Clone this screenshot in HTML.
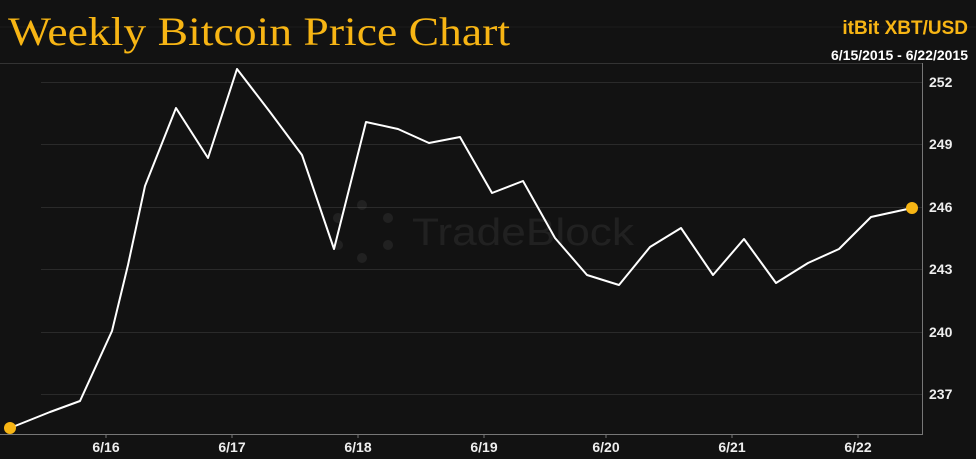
<!DOCTYPE html>
<html><head><style>
html,body{margin:0;padding:0;background:#121212;width:976px;height:459px;overflow:hidden}
</style></head><body>
<svg width="976" height="459" xmlns="http://www.w3.org/2000/svg" style="display:block">
<rect width="976" height="459" fill="#121212"/>
<line x1="0" y1="27" x2="976" y2="27" stroke="#1c1c1c" stroke-width="1"/>
<text x="8" y="45" font-family="Liberation Serif, serif" font-size="40" fill="#f7b514" textLength="502" lengthAdjust="spacingAndGlyphs">Weekly Bitcoin Price Chart</text>
<text x="968" y="34" text-anchor="end" font-family="Liberation Sans, sans-serif" font-weight="bold" font-size="19" fill="#f7b514">itBit XBT/USD</text>
<text x="968" y="60" text-anchor="end" font-family="Liberation Sans, sans-serif" font-weight="bold" font-size="14" fill="#fff">6/15/2015 - 6/22/2015</text>
<line x1="0" y1="63.5" x2="922" y2="63.5" stroke="#333" stroke-width="1"/>
<g stroke="#2a2a2a" stroke-width="1">
<line x1="41" y1="82.5" x2="922" y2="82.5"/>
<line x1="41" y1="144.5" x2="922" y2="144.5"/>
<line x1="41" y1="207.5" x2="922" y2="207.5"/>
<line x1="41" y1="269.5" x2="922" y2="269.5"/>
<line x1="41" y1="332.5" x2="922" y2="332.5"/>
<line x1="41" y1="394.5" x2="922" y2="394.5"/>
</g>
<line x1="922.5" y1="63" x2="922.5" y2="435" stroke="#777" stroke-width="1"/>
<line x1="0" y1="434.5" x2="923" y2="434.5" stroke="#777" stroke-width="1"/>
<g stroke="#777"><line x1="106" y1="434" x2="106" y2="438"/><line x1="232" y1="434" x2="232" y2="438"/><line x1="358" y1="434" x2="358" y2="438"/><line x1="484" y1="434" x2="484" y2="438"/><line x1="606" y1="434" x2="606" y2="438"/><line x1="732" y1="434" x2="732" y2="438"/><line x1="858" y1="434" x2="858" y2="438"/></g>
<g font-family="Liberation Sans, sans-serif" font-size="14" font-weight="bold" fill="#eee" text-anchor="middle">
<text x="106" y="452">6/16</text><text x="232" y="452">6/17</text><text x="358" y="452">6/18</text><text x="484" y="452">6/19</text><text x="606" y="452">6/20</text><text x="732" y="452">6/21</text><text x="858" y="452">6/22</text>
</g>
<g font-family="Liberation Sans, sans-serif" font-size="14" font-weight="bold" fill="#eee">
<text x="929" y="87">252</text><text x="929" y="149">249</text><text x="929" y="212">246</text><text x="929" y="274">243</text><text x="929" y="337">240</text><text x="929" y="399">237</text>
</g>
<g opacity="0.13" fill="#888">
<text x="412" y="245" font-family="Liberation Sans, sans-serif" font-size="38" textLength="222" lengthAdjust="spacingAndGlyphs">TradeBlock</text>
<circle cx="362" cy="205" r="5"/><circle cx="388" cy="218" r="5"/><circle cx="388" cy="245" r="5"/><circle cx="362" cy="258" r="5"/><circle cx="338" cy="245" r="5"/><circle cx="338" cy="218" r="5"/>
</g>
<polyline fill="none" stroke="#fff" stroke-width="2" stroke-linejoin="round" points="10,428 50,412 80,401 112,331 128,265 145,186 176,108 208,158 237,69 270,112 302,155 334,249 366,122 398,129 429,143 460,137 492,193 523,181 555,238 587,275 619,285 650,247 681,228 713,275 744,239 776,283 808,263 839,249 871,217 912,208"/>
<circle cx="10" cy="428" r="6" fill="#f7b514"/>
<circle cx="912" cy="208" r="6" fill="#f7b514"/>
</svg>
</body></html>
